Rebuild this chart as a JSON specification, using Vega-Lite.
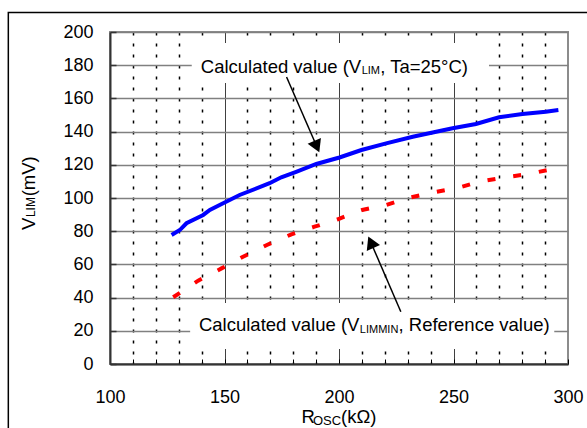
{
  "$schema": "https://vega.github.io/schema/vega-lite/v6.json",
  "width": 458,
  "height": 332,
  "autosize": {"type": "none"},
  "padding": {"left": 110, "top": 32, "right": 19, "bottom": 64},
  "background": "white",
  "config": {"view": {"stroke": "#8c8c8c", "strokeWidth": 2}, "font": "Liberation Sans"},
  "encoding": {
    "x": {
      "field": "x", "type": "quantitative",
      "scale": {"domain": [100, 300], "nice": false, "zero": false},
      "axis": {
        "values": [100,110,120,130,140,150,160,170,180,190,200,210,220,230,240,250,260,270,280,290,300],
        "labelExpr": "datum.value % 50 === 0 ? datum.label : ''",
        "title": null,
        "grid": true,
        "gridColor": "black",
        "gridDash": {"condition": {"test": "datum.value % 50 === 0", "value": [1, 0]}, "value": [3, 8]},
        "gridWidth": {"condition": {"test": "datum.value % 50 === 0", "value": 1}, "value": 1.5},
        "gridOpacity": {"condition": {"test": "datum.value === 100 || datum.value === 300", "value": 0}, "value": 1},
        "tickSize": -5, "tickColor": "black", "tickWidth": 1,
        "labelPadding": 29, "labelFontSize": 18, "labelFont": "Liberation Sans", "labelColor": "black",
        "labelFlush": false, "labelOverlap": false,
        "domainColor": "#333333", "domainWidth": 2
      }
    },
    "y": {
      "field": "y", "type": "quantitative",
      "scale": {"domain": [0, 200], "nice": false},
      "axis": {
        "values": [0,20,40,60,80,100,120,140,160,180,200],
        "title": null,
        "grid": true, "gridColor": "#808080", "gridWidth": 1.5,
        "tickSize": -6, "tickColor": "#333333", "tickWidth": 1.5,
        "labelPadding": 23, "labelFontSize": 18, "labelFont": "Liberation Sans", "labelColor": "black",
        "labelFlush": false, "labelOverlap": false,
        "domainColor": "#333333", "domainWidth": 2
      }
    }
  },
  "layer": [
    {
      "data": {"values": [{"x": 55.6, "x2": 313.5, "y": -45.8, "y2": 211.7}]},
      "mark": {"type": "rect", "fillOpacity": 0, "stroke": "black", "strokeWidth": 1.5, "clip": false},
      "encoding": {"x2": {"field": "x2"}, "y2": {"field": "y2"}}
    },
    {
      "data": {"values": [
        {"x": 135.7, "x2": 265.5, "y": 169.3, "y2": 193.4},
        {"x": 135.0, "x2": 294.0, "y": 9.0, "y2": 36.7}
      ]},
      "mark": {"type": "rect", "fill": "white", "stroke": null},
      "encoding": {"x2": {"field": "x2"}, "y2": {"field": "y2"}}
    },
    {
      "data": {"values": [
        {"x": 126.9, "y": 77.7}, {"x": 130.5, "y": 80.7}, {"x": 133.4, "y": 84.8}, {"x": 140.7, "y": 89.8},
        {"x": 143.6, "y": 92.8}, {"x": 149.4, "y": 96.8}, {"x": 156.6, "y": 101.8}, {"x": 169.7, "y": 108.9},
        {"x": 174.8, "y": 112.5}, {"x": 181.3, "y": 115.8}, {"x": 190.1, "y": 120.5}, {"x": 200.2, "y": 124.4},
        {"x": 209.8, "y": 128.9}, {"x": 220.6, "y": 132.9}, {"x": 232.2, "y": 136.9}, {"x": 249.6, "y": 142.0},
        {"x": 259.8, "y": 144.6}, {"x": 269.9, "y": 148.6}, {"x": 280.1, "y": 150.6}, {"x": 290.3, "y": 152.0},
        {"x": 295.8, "y": 153.0}
      ]},
      "mark": {"type": "line", "color": "#0000ff", "strokeWidth": 4}
    },
    {
      "data": {"values": [
        {"x": 127.6, "y": 40.2}, {"x": 138.5, "y": 50.2}, {"x": 148.7, "y": 57.6}, {"x": 158.1, "y": 64.6},
        {"x": 168.5, "y": 71.7}, {"x": 179.2, "y": 78.1}, {"x": 189.3, "y": 82.7}, {"x": 199.5, "y": 87.2},
        {"x": 210.1, "y": 92.8}, {"x": 220.6, "y": 95.8}, {"x": 230.7, "y": 100.2}, {"x": 241.2, "y": 103.4},
        {"x": 252.1, "y": 106.2}, {"x": 261.2, "y": 109.8}, {"x": 272.1, "y": 112.4}, {"x": 283.0, "y": 114.5},
        {"x": 295.8, "y": 118.2}
      ]},
      "mark": {"type": "line", "color": "#ff0000", "strokeWidth": 4, "strokeDash": [8, 18], "strokeCap": "butt"}
    },
    {
      "data": {"values": [
        {"x": 209.7, "y": 175.5, "t": "Calculated value (V"},
        {"x": 208.9, "y": 19.9, "t": "Calculated value (V"}
      ]},
      "mark": {"type": "text", "align": "right", "baseline": "alphabetic", "fontSize": 18.5, "color": "black", "font": "Liberation Sans"},
      "encoding": {"text": {"field": "t"}}
    },
    {
      "data": {"values": [
        {"x": 218.0, "y": 175.5, "t": ", Ta=25°C)"},
        {"x": 226.0, "y": 19.9, "t": ", Reference value)"},
        {"x": 183.6, "y": -35.7, "t": "R"},
        {"x": 200.9, "y": -35.7, "t": "(kΩ)"}
      ]},
      "mark": {"type": "text", "align": "left", "baseline": "alphabetic", "fontSize": 18.5, "color": "black", "font": "Liberation Sans"},
      "encoding": {"text": {"field": "t"}}
    },
    {
      "data": {"values": [
        {"x": 209.9, "y": 174.4, "t": "LIM"},
        {"x": 209.1, "y": 18.7, "t": "LIMMIN"}
      ]},
      "mark": {"type": "text", "align": "left", "baseline": "alphabetic", "fontSize": 11, "color": "black", "font": "Liberation Sans"},
      "encoding": {"text": {"field": "t"}}
    },
    {
      "data": {"values": [{"x": 188.6, "y": -36.7, "t": "OSC"}]},
      "mark": {"type": "text", "align": "left", "baseline": "alphabetic", "fontSize": 13, "color": "black", "font": "Liberation Sans"},
      "encoding": {"text": {"field": "t"}}
    },
    {
      "data": {"values": [
        {"x": 67.3, "y": 80.7, "t": "V"},
        {"x": 67.3, "y": 101.0, "t": "(mV)"}
      ]},
      "mark": {"type": "text", "align": "left", "baseline": "alphabetic", "angle": 270, "fontSize": 18.5, "color": "black", "font": "Liberation Sans"},
      "encoding": {"text": {"field": "t"}}
    },
    {
      "data": {"values": [{"x": 67.3, "y": 88.5, "t": "LIM"}]},
      "mark": {"type": "text", "align": "left", "baseline": "alphabetic", "angle": 270, "fontSize": 12, "color": "black", "font": "Liberation Sans"},
      "encoding": {"text": {"field": "t"}}
    },
    {
      "data": {"values": [
        {"x": 177.1, "y": 172.9, "x2": 190.3, "y2": 131.0},
        {"x": 227.0, "y": 31.5, "x2": 213.9, "y2": 73.3}
      ]},
      "mark": {"type": "rule", "color": "black", "strokeWidth": 1.5},
      "encoding": {"x2": {"field": "x2"}, "y2": {"field": "y2"}}
    },
    {
      "data": {"values": [
        {"x": 190.3, "y": 131.0, "a": 156.5},
        {"x": 213.9, "y": 73.3, "a": 336}
      ]},
      "mark": {"type": "point", "shape": "triangle-up", "filled": true, "color": "black", "opacity": 1, "size": 210},
      "encoding": {"angle": {"field": "a", "type": "quantitative", "scale": null}}
    }
  ]
}
